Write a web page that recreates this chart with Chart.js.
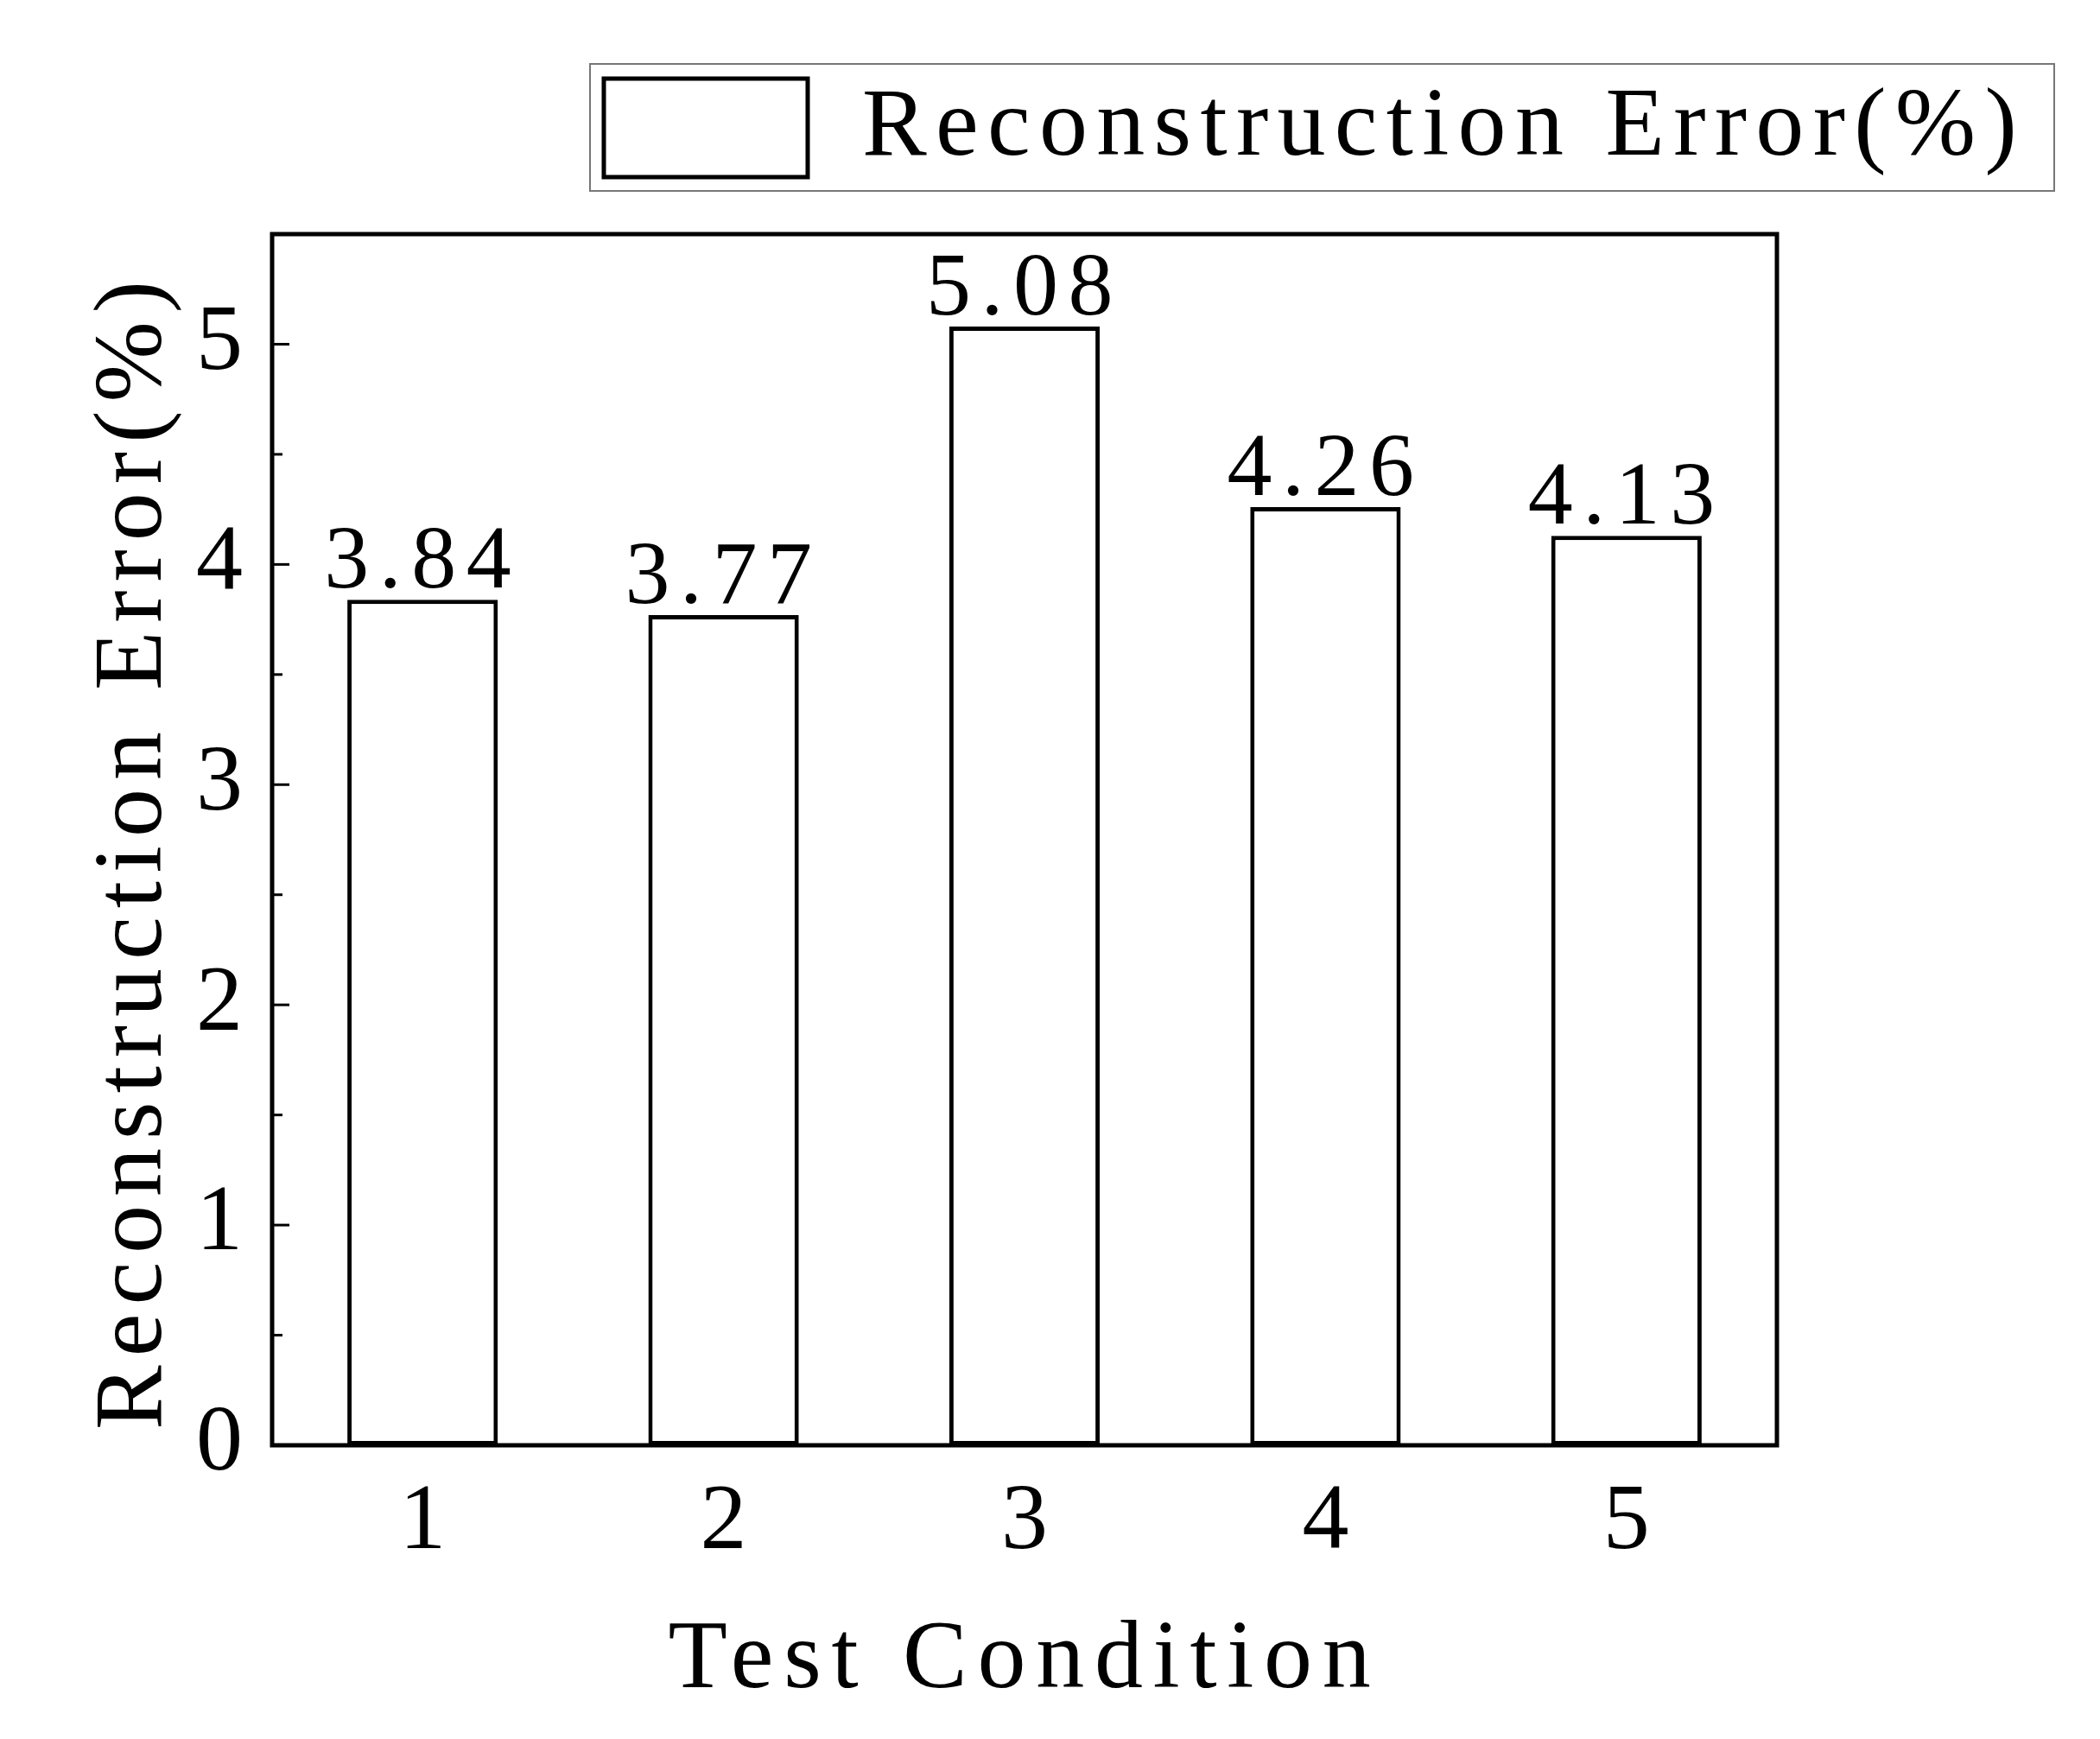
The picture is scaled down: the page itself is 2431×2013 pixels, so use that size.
<!DOCTYPE html>
<html>
<head>
<meta charset="utf-8">
<script src="https://cdn.jsdelivr.net/npm/chart.js@4"></script>
<style>
  html, body { margin: 0; padding: 0; background: #fff; }
  #wrap { width: 2431px; height: 2013px; }
</style>
</head>
<body>
<div id="wrap"><canvas id="chart"></canvas></div>
<script>
const conditions = ['1', '2', '3', '4', '5'];
const errors = [3.84, 3.77, 5.08, 4.26, 4.13];
const seriesLabel = 'Reconstruction Error(%)';
const xTitle = 'Test Condition';
const yTitle = 'Reconstruction Error(%)';

const FONT = '"Liberation Serif", "DejaVu Serif", serif';

// draws text stretched to a target width with letter spacing
function spacedText(ctx, text, x, y, size, width, align) {
  ctx.font = size + 'px ' + FONT;
  ctx.letterSpacing = '0px';
  const w = ctx.measureText(text).width;
  const sp = (width - w) / text.length;
  ctx.letterSpacing = sp + 'px';
  ctx.textAlign = 'left';
  let start = x;
  if (align === 'center') start = x - width / 2;
  ctx.fillText(text, start, y);
  ctx.letterSpacing = '0px';
}

const extras = {
  id: 'extras',
  afterDraw(chart) {
    const ctx = chart.ctx;
    const a = chart.chartArea;
    const ys = chart.scales.y;
    ctx.save();
    ctx.fillStyle = '#000';
    ctx.strokeStyle = '#000';

    // frame
    ctx.lineWidth = 5;
    ctx.strokeRect(a.left, a.top, a.right - a.left, a.bottom - a.top);

    // inward ticks on y
    ctx.lineWidth = 3;
    for (let v = 0; v <= 5.5; v += 0.5) {
      const py = ys.getPixelForValue(v);
      const len = (v % 1 === 0) ? 20 : 12;
      ctx.beginPath();
      ctx.moveTo(a.left, py);
      ctx.lineTo(a.left + len, py);
      ctx.stroke();
    }

    // value labels
    ctx.textBaseline = 'alphabetic';
    const meta = chart.getDatasetMeta(0);
    meta.data.forEach((bar, i) => {
      spacedText(ctx, errors[i].toFixed(2), bar.x, bar.y - 14, 104, 228, 'center');
    });

    // axis titles
    ctx.textBaseline = 'middle';
    spacedText(ctx, xTitle, (a.left + a.right) / 2, 1924, 112, 825, 'center');
    ctx.save();
    ctx.translate(157, 985);
    ctx.rotate(-Math.PI / 2);
    spacedText(ctx, yTitle, 0, 0, 112, 1340, 'center');
    ctx.restore();

    // legend
    ctx.strokeStyle = '#777';
    ctx.lineWidth = 2;
    ctx.strokeRect(683, 74, 1695, 147);
    ctx.strokeStyle = '#000';
    ctx.lineWidth = 5;
    ctx.strokeRect(699, 91, 236, 114);
    spacedText(ctx, seriesLabel, 998, 150, 112, 1347, 'left');
    ctx.restore();
  }
};

new Chart(document.getElementById('chart'), {
  type: 'bar',
  data: {
    labels: conditions,
    datasets: [{
      label: seriesLabel,
      data: errors,
      backgroundColor: '#fff',
      borderColor: '#000',
      borderWidth: 5,
      borderSkipped: false,
      barPercentage: 0.5,
      categoryPercentage: 1
    }]
  },
  options: {
    responsive: true,
    maintainAspectRatio: false,
    animation: false,
    layout: { padding: { left: 0, top: 271, right: 374, bottom: 0 } },
    plugins: { legend: { display: false }, tooltip: { enabled: false } },
    scales: {
      x: {
        grid: { display: false },
        border: { display: false },
        ticks: { color: '#000', padding: 18, font: { family: FONT, size: 108 } },
        afterFit(s) { s.height = 340; }
      },
      y: {
        min: 0,
        max: 5.5,
        grid: { display: false },
        border: { display: false },
        ticks: {
          stepSize: 1,
          color: '#000',
          padding: 26,
          font: { family: FONT, size: 108 },
          callback: v => (v % 1 === 0 ? v : '')
        },
        afterFit(s) { s.width = 315; }
      }
    }
  },
  plugins: [extras]
});
</script>
</body>
</html>
